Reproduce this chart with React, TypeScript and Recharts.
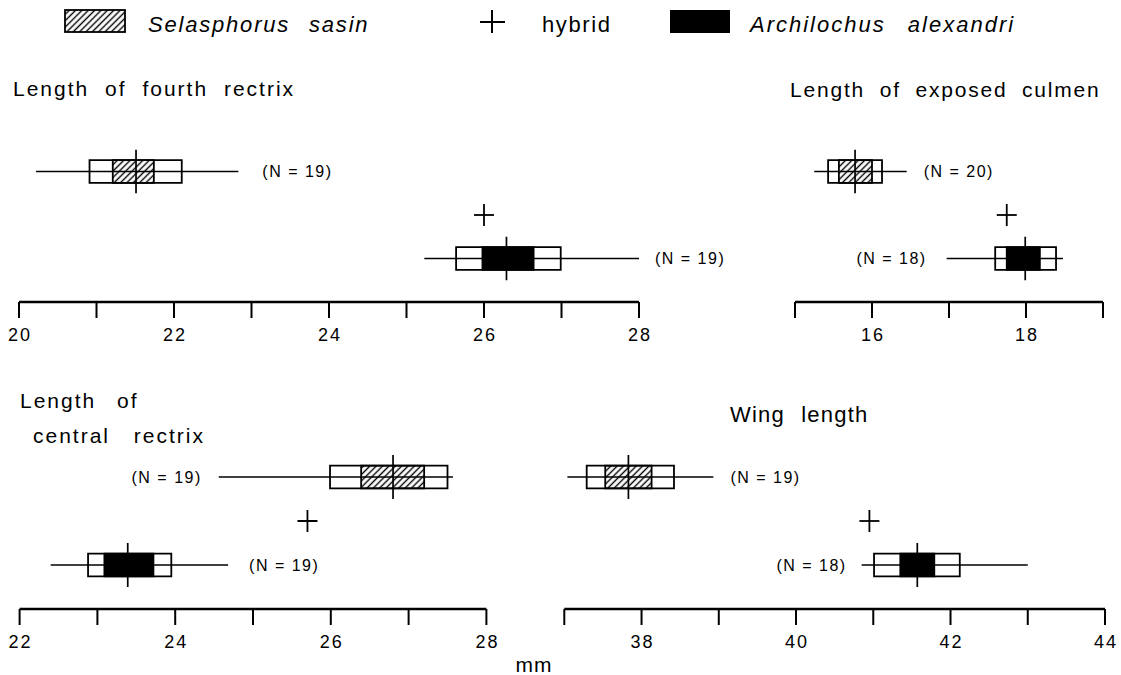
import React from "react";
import {
    ScatterChart,
    Scatter,
    XAxis,
    YAxis,
    ReferenceArea,
    ReferenceLine
} from "recharts";

const FONT = '"Liberation Sans", Arial, Helvetica, sans-serif';

// each row: [min, mean - SD, lower 95% limit, mean, upper 95% limit, mean + SD, max] in mm
const fourthRectrixSasin = [20.22, 20.91, 21.21, 21.51, 21.74, 22.1, 22.83];
const fourthRectrixAlexandri = [25.23, 25.64, 25.98, 26.29, 26.64, 26.99, 28.0];
const culmenSasin = [15.25, 15.43, 15.57, 15.78, 16.0, 16.13, 16.45];
const culmenAlexandri = [16.97, 17.6, 17.75, 17.99, 18.18, 18.39, 18.48];
const centralRectrixSasin = [24.56, 25.99, 26.39, 26.8, 27.2, 27.5, 27.57];
const centralRectrixAlexandri = [22.4, 22.88, 23.09, 23.39, 23.72, 23.95, 24.68];
const wingSasin = [37.04, 37.29, 37.53, 37.83, 38.13, 38.42, 38.93];
const wingAlexandri = [40.85, 41.01, 41.35, 41.57, 41.79, 42.12, 43.0];

// fourth rectrix, exposed culmen, central rectrix, wing
const hybridValues = [26.0, 17.75, 25.7, 40.95];
const sampleSizeSasin = [19, 20, 19, 19];
const sampleSizeAlexandri = [19, 18, 19, 18];

const fourthRectrixTicks = [20, 21, 22, 23, 24, 25, 26, 27, 28];
const culmenTicks = [15, 16, 17, 18, 19];
const centralRectrixTicks = [22, 23, 24, 25, 26, 27, 28];
const wingTicks = [37, 38, 39, 40, 41, 42, 43, 44];

const ROW_SASIN = 3;
const ROW_HYBRID = 2;
const ROW_ALEX = 1;
const BOX_HALF = 0.26;
const MEAN_HALF = 0.5;
const AXIS_H = 45;

type Side = "left" | "right";

const PlusShape = (props: any) => {
    const { cx, cy } = props;
    return (
        <g stroke="#000" strokeWidth={1.8}>
            <line x1={cx - 10} y1={cy} x2={cx + 10} y2={cy} />
            <line x1={cx} y1={cy - 11} x2={cx} y2={cy + 11} />
        </g>
    );
};

const AxisTick = (props: any) => {
    const { x, y, payload } = props;
    if (payload.value % 2 !== 0) return <g />;
    return (
        <text
            x={x + 1}
            y={y}
            dy="0.71em"
            textAnchor="middle"
            fontSize={18}
            fontFamily={FONT}
            letterSpacing={2}
            fill="#000"
        >
            {payload.value}
        </text>
    );
};

function specimenRow(key: string, v: number[], row: number, fill: string, n: number, side: Side, offset: number) {
    return [
        <ReferenceArea
            key={key + "-sd"}
            x1={v[1]}
            x2={v[5]}
            y1={row - BOX_HALF}
            y2={row + BOX_HALF}
            fill="none"
            stroke="#000"
            strokeWidth={1.8}
            ifOverflow="visible"
        />,
        <ReferenceArea
            key={key + "-ci"}
            x1={v[2]}
            x2={v[4]}
            y1={row - BOX_HALF}
            y2={row + BOX_HALF}
            fill={fill}
            fillOpacity={1}
            stroke="#000"
            strokeWidth={1.8}
            ifOverflow="visible"
        />,
        <ReferenceLine
            key={key + "-range"}
            segment={[{ x: v[0], y: row }, { x: v[6], y: row }]}
            stroke="#000"
            strokeWidth={1.7}
            ifOverflow="visible"
            label={{
                value: `(N = ${n})`,
                position: side,
                offset,
                fill: "#000",
                fontSize: 16,
                fontFamily: FONT,
                letterSpacing: 1.5
            }}
        />,
        <ReferenceLine
            key={key + "-mean"}
            segment={[{ x: v[3], y: row - MEAN_HALF }, { x: v[3], y: row + MEAN_HALF }]}
            stroke="#000"
            strokeWidth={1.7}
            ifOverflow="visible"
        />
    ];
}

type PanelProps = {
    left: number;
    top: number;
    width: number;
    plotLeft: number;
    plotRight: number;
    plotTop: number;
    plotBottom: number;
    ticks: number[];
    sasin: number[];
    alexandri: number[];
    index: number;
    sasinLabel: [Side, number];
    alexLabel: [Side, number];
};

function Panel(p: PanelProps) {
    const height = p.plotBottom - p.top + AXIS_H;
    const margin = {
        top: p.plotTop - p.top,
        left: p.plotLeft - p.left,
        right: p.left + p.width - p.plotRight,
        bottom: 0
    };
    return (
        <div style={{ position: "absolute", left: p.left, top: p.top }}>
            <ScatterChart width={p.width} height={height} margin={margin}>
                <XAxis
                    type="number"
                    dataKey="x"
                    domain={[p.ticks[0], p.ticks[p.ticks.length - 1]]}
                    allowDataOverflow
                    ticks={p.ticks}
                    interval={0}
                    height={AXIS_H}
                    tickSize={16}
                    tickMargin={10}
                    tick={<AxisTick />}
                    axisLine={{ stroke: "#000", strokeWidth: 2.5 }}
                    tickLine={{ stroke: "#000", strokeWidth: 2 }}
                />
                <YAxis type="number" dataKey="y" domain={[0, 4]} allowDataOverflow hide />
                {specimenRow("sasin", p.sasin, ROW_SASIN, "url(#hatch)", sampleSizeSasin[p.index], p.sasinLabel[0], p.sasinLabel[1])}
                {specimenRow("alex", p.alexandri, ROW_ALEX, "#000", sampleSizeAlexandri[p.index], p.alexLabel[0], p.alexLabel[1])}
                <Scatter
                    data={[{ x: hybridValues[p.index], y: ROW_HYBRID }]}
                    shape={<PlusShape />}
                    isAnimationActive={false}
                />
            </ScatterChart>
        </div>
    );
}

const textStyle = (size: number, ls: number, ws: number, italic = false): React.CSSProperties => ({
    fontFamily: FONT,
    fontSize: size,
    letterSpacing: ls,
    wordSpacing: ws,
    fontStyle: italic ? "italic" : "normal"
});

export default function App() {
    return (
        <div style={{ position: "absolute", left: 0, top: 0, width: 1121, height: 675, background: "#fff" }}>
            <svg width={1121} height={675} style={{ position: "absolute", left: 0, top: 0 }}>
                <defs>
                    <pattern id="hatch" patternUnits="userSpaceOnUse" width="4.5" height="4.5" patternTransform="rotate(45)">
                        <line x1="2.25" y1="0" x2="2.25" y2="4.5" stroke="#000" strokeWidth="1.4" />
                    </pattern>
                </defs>
                {/* legend */}
                <rect x={65} y={10} width={60} height={22} fill="url(#hatch)" stroke="#000" strokeWidth={1.8} />
                <text x={148} y={32} style={textStyle(22, 1.8, 11, true)}>Selasphorus sasin</text>
                <g stroke="#000" strokeWidth={2}>
                    <line x1={480} y1={22} x2={505} y2={22} />
                    <line x1={492} y1={10} x2={492} y2={33} />
                </g>
                <text x={542} y={32} style={textStyle(22, 1.6, 0)}>hybrid</text>
                <rect x={670} y={10} width={60} height={23} fill="#000" />
                <text x={750} y={32} style={textStyle(22, 2, 14, true)}>Archilochus alexandri</text>

                {/* panel titles */}
                <text x={13} y={96} style={textStyle(21, 2, 8)}>Length of fourth rectrix</text>
                <text x={790} y={97} style={textStyle(21, 1.8, 7)}>Length of exposed culmen</text>
                <text x={20} y={408} style={textStyle(21, 2, 13)}>Length of</text>
                <text x={33} y={443} style={textStyle(21, 2, 16)}>central rectrix</text>
                <text x={730} y={422} style={textStyle(22, 1.2, 9)}>Wing length</text>
                <text x={534} y={672} textAnchor="middle" style={textStyle(21, 1, 0)}>mm</text>
            </svg>

            <Panel
                left={0} top={90} width={760}
                plotLeft={19} plotRight={639} plotTop={128} plotBottom={302}
                ticks={fourthRectrixTicks}
                sasin={fourthRectrixSasin} alexandri={fourthRectrixAlexandri}
                index={0}
                sasinLabel={["right", 24]} alexLabel={["right", 16]}
            />
            <Panel
                left={760} top={90} width={361}
                plotLeft={795} plotRight={1103} plotTop={128} plotBottom={302}
                ticks={culmenTicks}
                sasin={culmenSasin} alexandri={culmenAlexandri}
                index={1}
                sasinLabel={["right", 17]} alexLabel={["left", 20]}
            />
            <Panel
                left={0} top={400} width={540}
                plotLeft={19.6} plotRight={486.4} plotTop={433} plotBottom={609}
                ticks={centralRectrixTicks}
                sasin={centralRectrixSasin} alexandri={centralRectrixAlexandri}
                index={2}
                sasinLabel={["left", 17]} alexLabel={["right", 21]}
            />
            <Panel
                left={540} top={400} width={581}
                plotLeft={564.3} plotRight={1105} plotTop={433} plotBottom={609}
                ticks={wingTicks}
                sasin={wingSasin} alexandri={wingAlexandri}
                index={3}
                sasinLabel={["right", 17]} alexLabel={["left", 15]}
            />
        </div>
    );
}
